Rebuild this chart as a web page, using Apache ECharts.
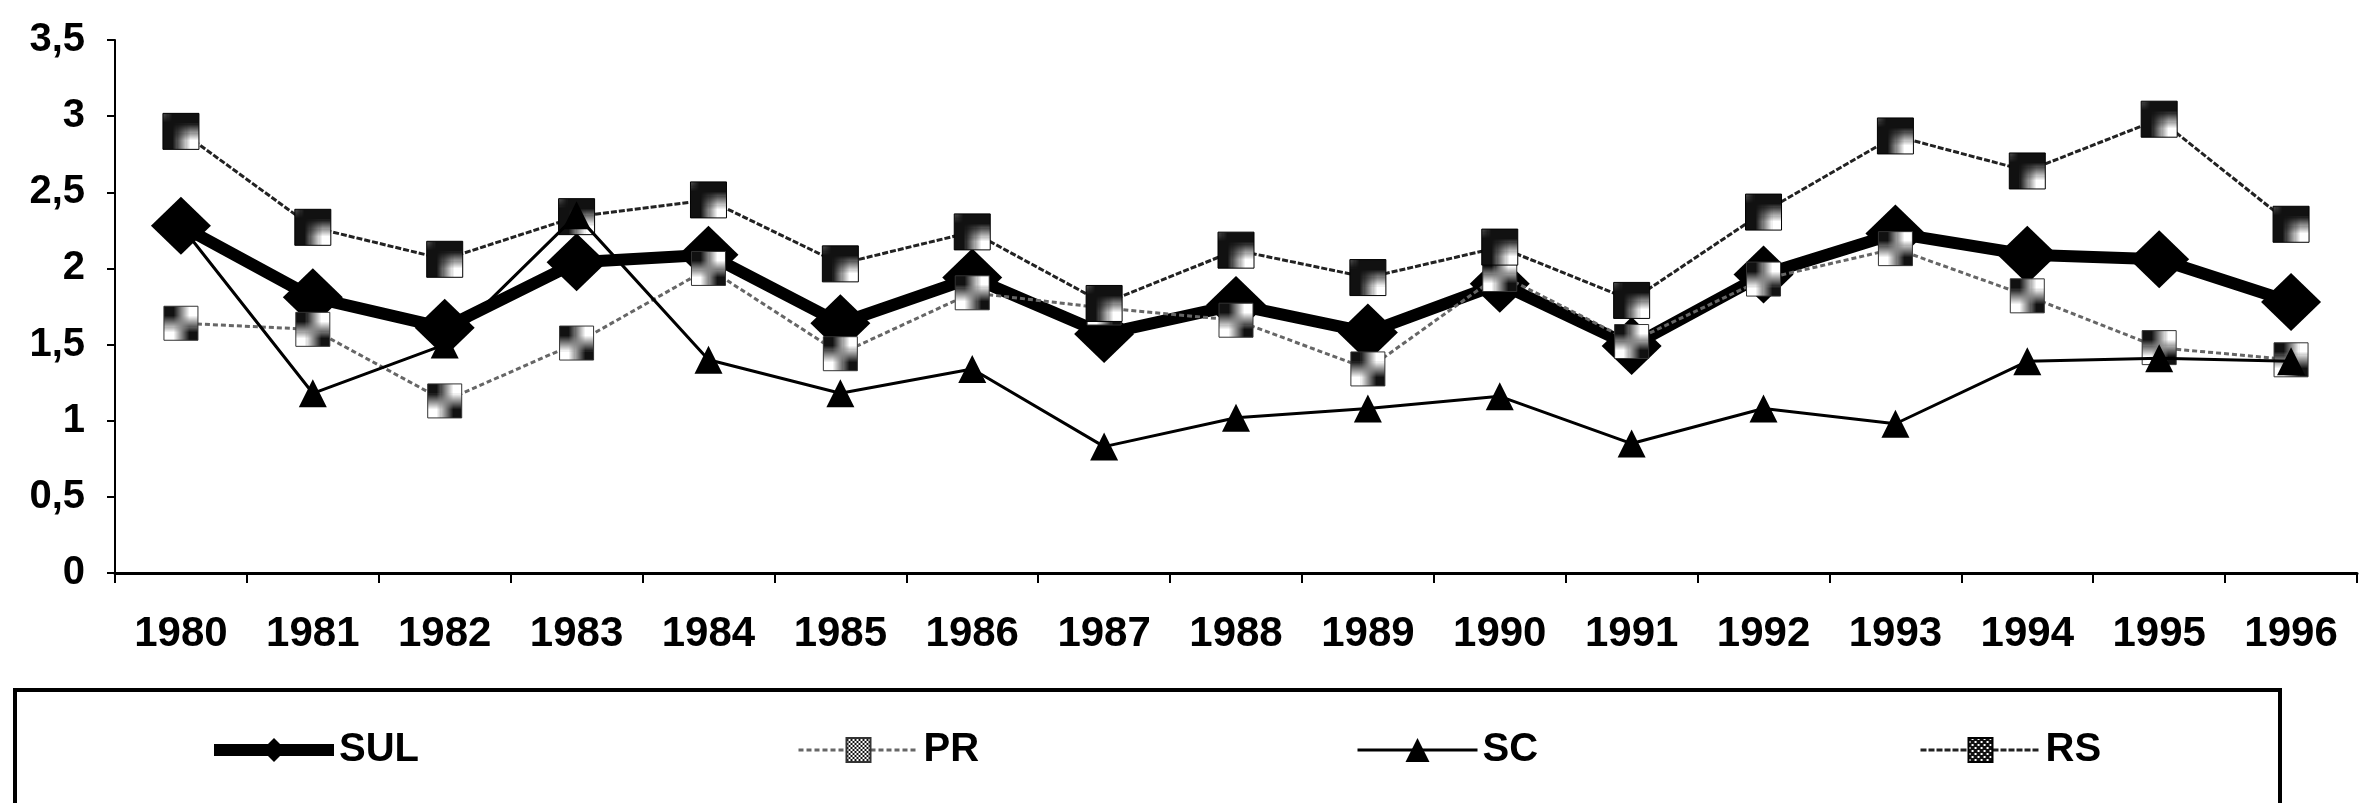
<!DOCTYPE html>
<html>
<head>
<meta charset="utf-8">
<script src="https://cdn.jsdelivr.net/npm/echarts@6/dist/echarts.min.js"></script>
<style>
  html, body { margin: 0; padding: 0; background: #fff; }
  #chart { width: 2372px; height: 803px; }
</style>
</head>
<body>
<div id="chart"></div>
<script>
// dados do grafico
const anos = ['1980', '1981', '1982', '1983', '1984', '1985', '1986', '1987', '1988',
  '1989', '1990', '1991', '1992', '1993', '1994', '1995', '1996']
const sul = [2.28, 1.81, 1.61, 2.04, 2.09, 1.64, 1.94, 1.57, 1.76, 1.58, 1.9, 1.49, 1.96, 2.23, 2.09, 2.06, 1.78]
const pr = [1.64, 1.6, 1.13, 1.51, 2.0, 1.44, 1.84, 1.74, 1.66, 1.34, 1.96, 1.52, 1.93, 2.13, 1.82, 1.48, 1.4]
const sc = [2.28, 1.18, 1.5, 2.35, 1.4, 1.18, 1.34, 0.83, 1.02, 1.08, 1.16, 0.85, 1.08, 0.98, 1.39, 1.41, 1.39]
const rs = [2.9, 2.27, 2.06, 2.34, 2.45, 2.03, 2.24, 1.77, 2.12, 1.94, 2.14, 1.79, 2.37, 2.87, 2.64, 2.98, 2.29]
const nomes = ['SUL', 'PR', 'SC', 'RS']

const fonte = '"Liberation Sans", Arial, sans-serif'

// textura quadriculada dos marcadores
function xadrez(fundo, ponto, passo, tam) {
  const c = document.createElement('canvas')
  c.width = passo * 2
  c.height = passo * 2
  const ctx = c.getContext('2d')
  ctx.fillStyle = fundo
  ctx.fillRect(0, 0, c.width, c.height)
  ctx.fillStyle = ponto
  ctx.fillRect(0, 0, tam, tam)
  ctx.fillRect(passo, passo, tam, tam)
  return { image: c, repeat: 'repeat' }
}
const texturaPR = xadrez('#fff', '#111', 2, 2)
const texturaRS = xadrez('#111', '#fff', 3, 2)

// uma legenda por serie, cada uma na sua posicao
const posLegenda = [203, 792, 1351, 1914]
const larguraLinha = { SUL: 12, PR: 3, SC: 3, RS: 3 }
const legendas = nomes.map((n, i) => ({
  left: posLegenda[i],
  top: 722,
  itemWidth: 120,
  itemHeight: 30,
  textStyle: { fontFamily: fonte, fontWeight: 'bold', fontSize: 40, color: '#000', lineHeight: 46 },
  data: [{ name: n, lineStyle: { width: larguraLinha[n] } }]
}))

const chart = echarts.init(document.getElementById('chart'))

const option = {
  backgroundColor: '#fff',
  animation: false,
  grid: { left: 115, right: 15, top: 40, bottom: 230 },
  legend: legendas,
  xAxis: {
    type: 'category',
    data: anos,
    boundaryGap: true,
    axisLine: { lineStyle: { color: '#000', width: 3 } },
    axisTick: { show: true, length: 10, lineStyle: { color: '#000', width: 2 } },
    axisLabel: { margin: 40, color: '#000', fontFamily: fonte, fontWeight: 'bold', fontSize: 42, interval: 0 },
    splitLine: { show: false }
  },
  yAxis: {
    type: 'value',
    min: 0,
    max: 3.5,
    interval: 0.5,
    axisLine: { show: true, lineStyle: { color: '#000', width: 2 } },
    axisTick: { show: true, length: 8, lineStyle: { color: '#000', width: 2 } },
    axisLabel: {
      margin: 30, color: '#000', fontFamily: fonte, fontWeight: 'bold', fontSize: 40,
      formatter: v => String(v).replace('.', ',')
    },
    splitLine: { show: false }
  },
  series: [
    {
      name: 'SUL', type: 'line', data: sul, z: 2,
      symbol: 'diamond', symbolSize: [60, 58],
      lineStyle: { color: '#000', width: 12 },
      itemStyle: { color: '#000' }
    },
    {
      name: 'PR', type: 'line', data: pr, z: 3,
      symbol: 'rect', symbolSize: 34,
      lineStyle: { color: '#666', width: 3, type: [5, 3] },
      itemStyle: { color: texturaPR, borderColor: '#333', borderWidth: 1 }
    },
    {
      name: 'SC', type: 'line', data: sc, z: 4,
      symbol: 'triangle', symbolSize: 28,
      lineStyle: { color: '#000', width: 3 },
      itemStyle: { color: '#000' }
    },
    {
      name: 'RS', type: 'line', data: rs, z: 3,
      symbol: 'rect', symbolSize: 36,
      lineStyle: { color: '#222', width: 3, type: [6, 2] },
      itemStyle: { color: texturaRS, borderColor: '#000', borderWidth: 1 }
    }
  ],
  graphic: [
    {
      type: 'rect',
      shape: { x: 15, y: 690, width: 2265, height: 200 },
      style: { fill: 'none', stroke: '#000', lineWidth: 4 },
      silent: true
    }
  ]
}

chart.setOption(option)
</script>
</body>
</html>
